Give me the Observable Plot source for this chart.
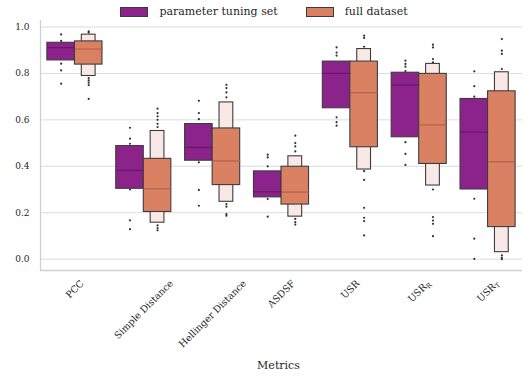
<!DOCTYPE html>
<html>
<head>
<meta charset="utf-8">
<script src="https://cdn.jsdelivr.net/npm/d3@7"></script>
<script src="https://cdn.jsdelivr.net/npm/@observablehq/plot@0.6"></script>
<style>
  body { margin: 0; background: #fff; }
  #chart { width: 528px; height: 377px; overflow: hidden; font-family: "DejaVu Serif", serif; color: #262626; }
  .legend { height: 12px; padding-top: 6px; display: flex; justify-content: center; gap: 28px; font-size: 11px; line-height: 12px; }
  .item { display: flex; align-items: center; gap: 11px; }
  .sw { width: 28px; height: 10px; box-sizing: border-box; border: 1px solid #3a3a3a; }
</style>
</head>
<body>
<div id="chart"></div>
<script>
// ---- data ----
const categories = ["PCC", "Simple Distance", "Hellinger Distance", "ASDSF", "USR", "USR_R", "USR_T"];
const hues = ["parameter tuning set", "full dataset"];
const hueColors = ["#8c238b", "#da8163"];
const medianColors = ["#6a1668", "#b0604a"];
const outerColor = "#f9e9e6";

// parameter tuning set (single letter-value level)
const tuningQ1  = [0.856, 0.303, 0.424, 0.266, 0.650, 0.525, 0.300];
const tuningMed = [0.911, 0.382, 0.481, 0.290, 0.800, 0.750, 0.547];
const tuningQ3  = [0.932, 0.487, 0.582, 0.378, 0.851, 0.803, 0.690];
const tuningOutliers = [
  [0.968, 0.940, 0.842, 0.813, 0.756],
  [0.566, 0.519, 0.497, 0.300, 0.167, 0.129],
  [0.682, 0.629, 0.603, 0.417, 0.298, 0.230],
  [0.450, 0.438, 0.400, 0.259, 0.183],
  [0.912, 0.890, 0.877, 0.611, 0.590, 0.575],
  [0.855, 0.841, 0.829, 0.810, 0.504, 0.453, 0.406],
  [0.809, 0.745, 0.700, 0.260, 0.088, 0.001]
];

// full dataset (two letter-value levels)
const fullQ1  = [0.838, 0.203, 0.319, 0.235, 0.482, 0.410, 0.138];
const fullMed = [0.905, 0.303, 0.423, 0.289, 0.717, 0.578, 0.419];
const fullQ3  = [0.938, 0.432, 0.563, 0.398, 0.851, 0.798, 0.723];
const fullLo  = [0.789, 0.157, 0.247, 0.183, 0.386, 0.317, 0.030];
const fullHi  = [0.967, 0.552, 0.675, 0.443, 0.905, 0.841, 0.805];
const fullOutliers = [
  [0.981, 0.976, 0.780, 0.770, 0.760, 0.750, 0.690],
  [0.648, 0.629, 0.615, 0.600, 0.583, 0.569, 0.145, 0.134, 0.124],
  [0.751, 0.737, 0.718, 0.697, 0.237, 0.226, 0.194, 0.187],
  [0.532, 0.500, 0.486, 0.464, 0.173, 0.159, 0.149],
  [0.963, 0.953, 0.915, 0.379, 0.341, 0.221, 0.178, 0.164, 0.102],
  [0.924, 0.912, 0.862, 0.848, 0.300, 0.181, 0.166, 0.152, 0.099],
  [0.948, 0.898, 0.884, 0.819, 0.016, 0.006, 0.000]
];

const yTicks = [0, 0.2, 0.4, 0.6, 0.8, 1.0];
const yDomain = [-0.049, 1.028];
const xDomain = [-0.5, categories.length - 0.5];
const axisLabel = "Metrics";

// ---- derived tables ----
const hueOffset = [-0.2, 0.2]; // centre of each hue within a category (seaborn width 0.8)
const half = 0.2, outerHalf = 0.1;
const inner = [];
const outer = [];
const dots = [];
categories.forEach((c, i) => {
  inner.push({i, h: 0, q1: tuningQ1[i], q3: tuningQ3[i], med: tuningMed[i]});
  inner.push({i, h: 1, q1: fullQ1[i], q3: fullQ3[i], med: fullMed[i]});
  outer.push({i, h: 1, lo: fullLo[i], hi: fullHi[i]});
  tuningOutliers[i].forEach(v => dots.push({i, h: 0, v}));
  fullOutliers[i].forEach(v => dots.push({i, h: 1, v}));
});
const cx = d => d.i + hueOffset[d.h];

// ---- legend ----
const root = document.getElementById("chart");
const legend = document.createElement("div");
legend.className = "legend";
hues.forEach((h, k) => {
  const it = document.createElement("div");
  it.className = "item";
  const sw = document.createElement("div");
  sw.className = "sw";
  sw.style.background = hueColors[k];
  const t = document.createElement("span");
  t.textContent = h;
  it.appendChild(sw); it.appendChild(t);
  legend.appendChild(it);
});
root.appendChild(legend);

// ---- tick label measurement (for centred rotated labels) ----
const tickFont = 9.5;
const ctx = document.createElement("canvas").getContext("2d");
ctx.font = `${tickFont}px "DejaVu Serif"`;
function labelWidth(s) {
  const p = s.split("_");
  let w = ctx.measureText(p[0]).width;
  if (p[1]) w += 0.7 * ctx.measureText(p[1]).width;
  return w;
}
const labelMarks = categories.map((c, i) => {
  const w = labelWidth(c);
  const dy = 8 + (w + tickFont) * 0.3536;
  return Plot.text([{i, c}], {
    x: "i", y: () => yDomain[0], text: "c", rotate: -45,
    textAnchor: "middle", lineAnchor: "middle", dy,
    fontSize: tickFont, fill: "#262626"
  });
});

const plot = Plot.plot({
  width: 528,
  height: 359,
  marginTop: 2,
  marginBottom: 107,
  marginLeft: 40,
  marginRight: 6,
  style: {fontFamily: "DejaVu Serif", fontSize: "9px", color: "#262626", background: "#fff"},
  x: {domain: xDomain, axis: null},
  y: {domain: yDomain, ticks: yTicks, tickSize: 0, tickPadding: 11, tickFormat: d3.format(".1f"), label: null},
  marks: [
    Plot.ruleY(yTicks, {stroke: "#dcdcdc", strokeWidth: 1}),
    Plot.ruleX([xDomain[0]], {stroke: "#cfcfcf", strokeWidth: 1.3}),
    Plot.ruleY([yDomain[0]], {stroke: "#cfcfcf", strokeWidth: 1.3}),
    Plot.rect(outer, {
      x1: d => cx(d) - outerHalf, x2: d => cx(d) + outerHalf,
      y1: "lo", y2: "hi", fill: outerColor, stroke: "#3d3d3d", strokeWidth: 1.1
    }),
    Plot.rect(inner, {
      x1: d => cx(d) - half, x2: d => cx(d) + half,
      y1: "q1", y2: "q3", fill: d => hueColors[d.h], stroke: "#3d3d3d", strokeWidth: 1.1
    }),
    Plot.link(inner, {
      x1: d => cx(d) - half, x2: d => cx(d) + half,
      y1: "med", y2: "med", stroke: d => medianColors[d.h], strokeWidth: 1.2, insetLeft: 1
    }),
    Plot.dot(dots, {x: cx, y: "v", r: 1.1, fill: "#333", stroke: null}),
    ...labelMarks,
    Plot.text([axisLabel], {frameAnchor: "bottom", dy: 94.5, dx: -3, lineAnchor: "middle", fontSize: 11, fill: "#262626"})
  ]
});

// subscripts (USR_R -> USR with small lowered R)
plot.querySelectorAll("text").forEach(t => {
  const s = t.textContent;
  if (s.includes("_")) {
    const [a, b] = s.split("_");
    t.textContent = a;
    const ts = document.createElementNS("http://www.w3.org/2000/svg", "tspan");
    ts.setAttribute("font-size", "70%");
    ts.setAttribute("dy", "0.3em");
    ts.textContent = b;
    t.appendChild(ts);
  }
});
root.appendChild(plot);
</script>
</body>
</html>
